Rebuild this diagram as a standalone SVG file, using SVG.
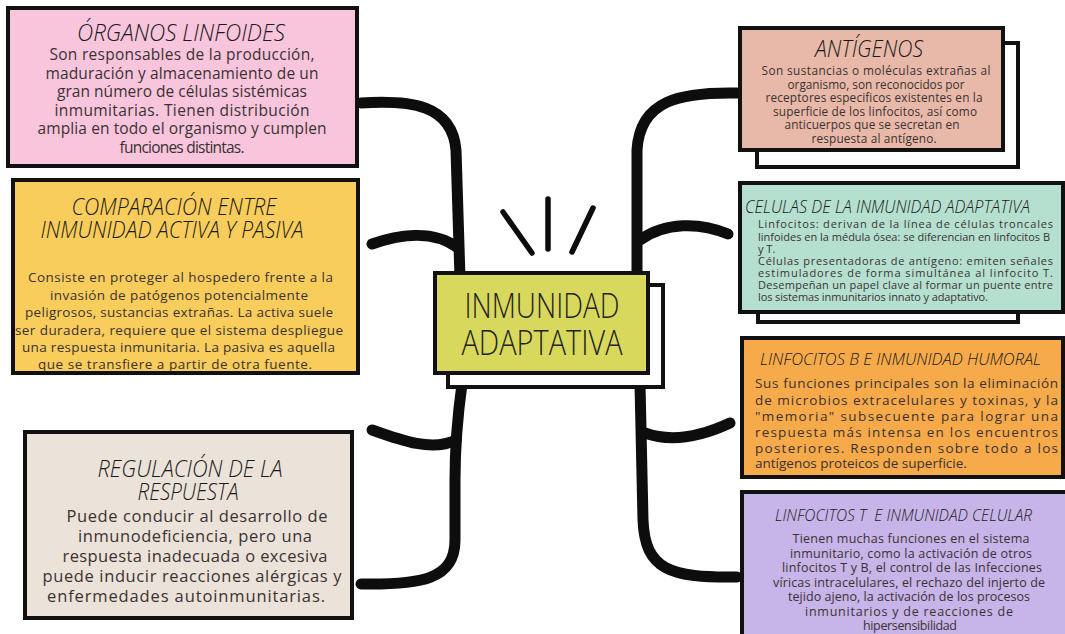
<svg xmlns="http://www.w3.org/2000/svg" width="1065" height="634" viewBox="0 0 1065 634">
<style>
.box{stroke:#111;stroke-width:4}
.shadow{fill:#fff;stroke:#111;stroke-width:4}
.title{font-family:"Open Sans","DejaVu Sans",sans-serif;font-style:italic;font-weight:300;fill:#1a1a1a}
.body{font-family:"Open Sans","Liberation Sans",sans-serif;fill:#3a3232}
.mid{text-anchor:middle}
.conn{fill:none;stroke:#0d0d0d;stroke-width:11;stroke-linecap:round;stroke-linejoin:round}
.ray{fill:none;stroke:#0d0d0d;stroke-width:5.5;stroke-linecap:round}
</style>
<rect width="1065" height="634" fill="#ffffff"/>
<g id="connectors">
<path class="conn" d="M 361 103 C 410 100, 452 104, 456 150 L 460 278"/>
<path class="conn" d="M 372 244 C 395 236, 432 228, 458 248"/>
<path class="conn" d="M 462 384 C 457 420, 455 450, 455 480 L 455 540 C 455 580, 420 585, 361 584"/>
<path class="conn" d="M 372 430 C 400 440, 432 452, 456 440"/>
<path class="conn" d="M 737 93 C 680 92, 640 100, 637 150 L 637 278"/>
<path class="conn" d="M 728 234 C 700 222, 665 222, 640 240"/>
<path class="conn" d="M 640 384 L 643 520 C 645 570, 670 578, 737 577"/>
<path class="conn" d="M 730 423 C 700 437, 670 442, 645 433"/>
</g>
<g id="rays">
<line class="ray" x1="503" y1="212" x2="532" y2="253"/>
<line class="ray" x1="548" y1="199" x2="548" y2="249"/>
<line class="ray" x1="593" y1="208" x2="572" y2="252"/>
</g>
<g id="node-center">
<rect class="shadow" x="448" y="285" width="215" height="102"/>
<rect class="box" x="435" y="273" width="213" height="100" fill="#d8d95c"/>
<text x="542" y="318" font-family="'Open Sans','DejaVu Sans',sans-serif" font-weight="300" font-size="34" fill="#222" text-anchor="middle" textLength="155" lengthAdjust="spacingAndGlyphs">INMUNIDAD</text>
<text x="542" y="355" font-family="'Open Sans','DejaVu Sans',sans-serif" font-weight="300" font-size="34" fill="#222" text-anchor="middle" textLength="161" lengthAdjust="spacingAndGlyphs">ADAPTATIVA</text>
</g>
<g id="node-organos">
<rect class="box" x="8" y="8" width="349" height="158" fill="#f9c5dd"/>
<text class="title mid" x="181" y="41" font-size="24" textLength="208" lengthAdjust="spacingAndGlyphs">ÓRGANOS LINFOIDES</text>
<g class="body mid" font-size="15.5">
<text x="182" y="60" textLength="265">Son responsables de la producción,</text>
<text x="182" y="78.5" textLength="273">maduración y almacenamiento de un</text>
<text x="182" y="97" textLength="250">gran número de células sistémicas</text>
<text x="182" y="115.5" textLength="255">inmumitarias. Tienen distribución</text>
<text x="182" y="134" textLength="289">amplia en todo el organismo y cumplen</text>
<text x="182" y="152.5" textLength="125">funciones distintas.</text>
</g>
</g>
<g id="node-comparacion">
<rect class="box" x="13" y="180" width="345" height="193" fill="#f9cd5b"/>
<text class="title mid" x="174" y="215" font-size="23" textLength="205" lengthAdjust="spacingAndGlyphs">COMPARACIÓN ENTRE</text>
<text class="title mid" x="172" y="238" font-size="23" textLength="263" lengthAdjust="spacingAndGlyphs">INMUNIDAD ACTIVA Y PASIVA</text>
<g class="body mid" font-size="13.5">
<text x="180.5" y="282" textLength="305">Consiste en proteger al hospedero frente a la</text>
<text x="179" y="299.5" textLength="258">invasión de patógenos potencialmente</text>
<text x="179" y="317" textLength="308">peligrosos, sustancias extrañas. La activa suele</text>
<text x="179" y="334.5" textLength="328">ser duradera, requiere que el sistema despliegue</text>
<text x="178.5" y="352" textLength="313">una respuesta inmunitaria. La pasiva es aquella</text>
<text x="175" y="369" textLength="274">que se transfiere a partir de otra fuente.</text>
</g>
</g>
<g id="node-regulacion">
<rect class="box" x="25" y="432" width="327" height="186" fill="#ebe3d9"/>
<text class="title mid" x="190" y="477" font-size="23" textLength="185" lengthAdjust="spacingAndGlyphs">REGULACIÓN DE LA</text>
<text class="title mid" x="188" y="500" font-size="23" textLength="101" lengthAdjust="spacingAndGlyphs">RESPUESTA</text>
<g class="body mid" font-size="16.5">
<text x="197" y="522" textLength="261">Puede conducir al desarrollo de</text>
<text x="195" y="542" textLength="234">inmunodeficiencia, pero una</text>
<text x="195" y="562" textLength="265">respuesta inadecuada o excesiva</text>
<text x="192" y="582" textLength="299">puede inducir reacciones alérgicas y</text>
<text x="186" y="602" textLength="278">enfermedades autoinmunitarias.</text>
</g>
</g>
<g id="node-antigenos">
<rect class="shadow" x="757" y="43" width="261" height="124"/>
<rect class="box" x="740" y="28" width="263" height="122" fill="#e8b9a8"/>
<text class="title mid" x="869" y="57" font-size="24" textLength="108" lengthAdjust="spacingAndGlyphs">ANTÍGENOS</text>
<g class="body mid" font-size="11.8" fill="#4a3532">
<text x="876" y="75" textLength="229">Son sustancias o moléculas extrañas al</text>
<text x="876" y="88.5" textLength="177">organismo, son reconocidos por</text>
<text x="874" y="102" textLength="217">receptores especificos existentes en la</text>
<text x="875" y="115.5" textLength="204">superficie de los linfocitos, así como</text>
<text x="872" y="129" textLength="175">anticuerpos que se secretan en</text>
<text x="874" y="142.5" textLength="125">respuesta al antígeno.</text>
</g>
</g>
<g id="node-celulas">
<rect class="shadow" x="758" y="195" width="260" height="127"/>
<rect class="box" x="740" y="183" width="323" height="129" fill="#b5e0d0"/>
<text class="title" x="745" y="213" font-size="18" textLength="285" lengthAdjust="spacingAndGlyphs">CELULAS DE LA INMUNIDAD ADAPTATIVA</text>
<g class="body" font-size="11" fill="#3a3535">
<text x="758" y="228" textLength="295">Linfocitos: derivan de la línea de células troncales</text>
<text x="758" y="240.5" textLength="292">linfoides en la médula ósea: se diferencian en linfocitos B</text>
<text x="758" y="252.5">y T.</text>
<text x="758" y="265" textLength="295">Células presentadoras de antígeno: emiten señales</text>
<text x="758" y="277" textLength="295">estimuladores de forma simultánea al linfocito T.</text>
<text x="758" y="289" textLength="295">Desempeñan un papel clave al formar un puente entre</text>
<text x="758" y="301" textLength="230">los sistemas inmunitarios innato y adaptativo.</text>
</g>
</g>
<g id="node-linfocitos-b">
<rect class="box" x="742" y="338" width="321" height="139" fill="#f7aa4a"/>
<text class="title" x="760" y="365" font-size="17" textLength="281" lengthAdjust="spacingAndGlyphs">LINFOCITOS B E INMUNIDAD HUMORAL</text>
<g class="body" font-size="13.5" fill="#4a3320">
<text x="755" y="388" textLength="303">Sus funciones principales son la eliminación</text>
<text x="755" y="405" textLength="303">de microbios extracelulares y toxinas, y la</text>
<text x="755" y="420.5" textLength="303">"memoria" subsecuente para lograr una</text>
<text x="755" y="437" textLength="303">respuesta más intensa en los encuentros</text>
<text x="755" y="452.5" textLength="303">posteriores. Responden sobre todo a los</text>
<text x="755" y="468">antígenos proteicos de superficie.</text>
</g>
</g>
<g id="node-linfocitos-t">
<rect class="box" x="742" y="492" width="330" height="150" fill="#c7b4e8"/>
<text class="title" x="775" y="521" font-size="17" textLength="257" lengthAdjust="spacingAndGlyphs">LINFOCITOS T&#160; E INMUNIDAD CELULAR</text>
<g class="body mid" font-size="12.5" fill="#3a3338">
<text x="911" y="543" textLength="237">Tienen muchas funciones en el sistema</text>
<text x="911" y="557.5" textLength="242">inmunitario, como la activación de otros</text>
<text x="912" y="572" textLength="260">linfocitos T y B, el control de las Infecciones</text>
<text x="909" y="586.5" textLength="272">víricas intracelulares, el rechazo del injerto de</text>
<text x="909" y="601" textLength="242">tejido ajeno, la activación de los procesos</text>
<text x="909" y="615.5" textLength="208">inmunitarios y de reacciones de</text>
<text x="910" y="630" textLength="94">hipersensibilidad</text>
</g>
</g>
</svg>
